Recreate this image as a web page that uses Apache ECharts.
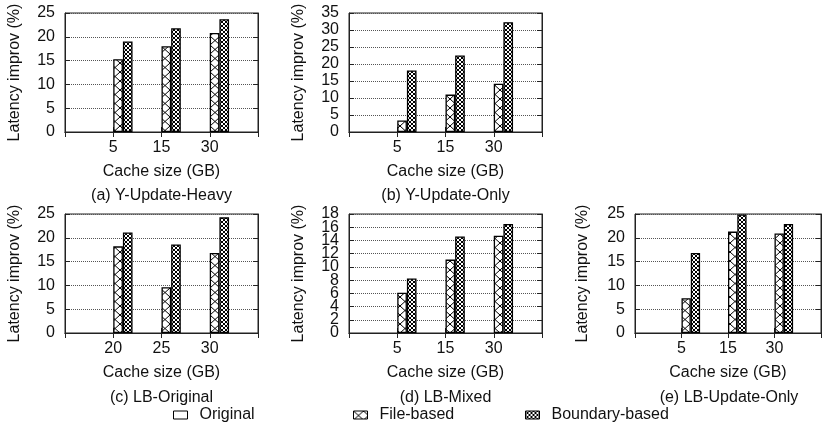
<!DOCTYPE html>
<html>
<head>
<meta charset="utf-8">
<script src="https://cdn.jsdelivr.net/npm/echarts@6/dist/echarts.min.js"></script>
<style>
  html, body { margin: 0; padding: 0; background: #fff; }
  #chart { width: 824px; height: 425px; }
</style>
</head>
<body>
<div id="chart"></div>
<script>
// ---- data ----
const panelTitles = ['(a) Y-Update-Heavy', '(b) Y-Update-Only', '(c) LB-Original', '(d) LB-Mixed', '(e) LB-Update-Only'];
const seriesNames = ['Original', 'File-based', 'Boundary-based'];

const cacheSizesA = ['5', '15', '30'];
const originalA = [0, 0, 0];
const fileBasedA = [15.3, 18.0, 20.8];
const boundaryBasedA = [19.0, 21.8, 23.7];

const cacheSizesB = ['5', '15', '30'];
const originalB = [0, 0, 0];
const fileBasedB = [3.4, 11.0, 14.2];
const boundaryBasedB = [18.1, 22.5, 32.3];

const cacheSizesC = ['20', '25', '30'];
const originalC = [0, 0, 0];
const fileBasedC = [18.2, 9.6, 16.8];
const boundaryBasedC = [21.1, 18.6, 24.3];

const cacheSizesD = ['5', '15', '30'];
const originalD = [0, 0, 0];
const fileBasedD = [6.1, 11.1, 14.7];
const boundaryBasedD = [8.25, 14.6, 16.5];

const cacheSizesE = ['5', '15', '30'];
const originalE = [0, 0, 0];
const fileBasedE = [7.3, 21.3, 20.9];
const boundaryBasedE = [16.8, 24.9, 22.9];

const yMaxes = [25, 35, 25, 18, 25];
const yTickSteps = [5, 5, 5, 2, 5];

const panels = [
  { cats: cacheSizesA, vals: [originalA, fileBasedA, boundaryBasedA] },
  { cats: cacheSizesB, vals: [originalB, fileBasedB, boundaryBasedB] },
  { cats: cacheSizesC, vals: [originalC, fileBasedC, boundaryBasedC] },
  { cats: cacheSizesD, vals: [originalD, fileBasedD, boundaryBasedD] },
  { cats: cacheSizesE, vals: [originalE, fileBasedE, boundaryBasedE] }
];

// ---- layout & style ----
const FONT = "'Liberation Sans', Arial, sans-serif";
const INK = '#111';
const FRAME = '#222';

const gridBoxes = [
  { left: 65,  top: 13,  width: 193, height: 119, nameGap: 42 },
  { left: 349, top: 13,  width: 193, height: 119, nameGap: 42 },
  { left: 65,  top: 214, width: 193, height: 119, nameGap: 42 },
  { left: 349, top: 214, width: 193, height: 119, nameGap: 42 },
  { left: 635, top: 214, width: 188, height: 119, nameGap: 44 }
];
const captionY = [196, 196, 398, 398, 398];

// hatch fills
function makeTile(w, h, draw) {
  const c = document.createElement('canvas');
  c.width = w; c.height = h;
  const ctx = c.getContext('2d');
  ctx.fillStyle = '#fff';
  ctx.fillRect(0, 0, w, h);
  ctx.strokeStyle = '#000';
  ctx.lineWidth = 1;
  draw(ctx, w, h);
  return c;
}
function crossLines(ctx, w, h) {
  ctx.beginPath();
  ctx.moveTo(-w, -h); ctx.lineTo(2 * w, 2 * h);
  ctx.moveTo(2 * w, -h); ctx.lineTo(-w, 2 * h);
  ctx.stroke();
}
const sparseCross = makeTile(10, 9, crossLines);
const denseCross = makeTile(4, 4, crossLines);

const fills = [
  '#fff',
  { image: sparseCross, repeat: 'repeat' },
  { image: denseCross, repeat: 'repeat' }
];
const barWidths = ['40%', '20%', '20%'];
const barBorders = [0, 1.3, 1.3];

const textBase = { fontFamily: FONT, fontSize: 16, color: INK };

const grid = [], xAxis = [], yAxis = [], series = [], graphic = [];

// y tick labels are split over two overlaid left axes (alternate ticks each),
// so tightly packed labels are all kept
function alternateLabels(step, parity) {
  return v => (Math.round(v / step) % 2 === parity ? String(v) : '');
}

panels.forEach((p, i) => {
  const g = gridBoxes[i];
  grid.push({
    left: g.left, top: g.top, width: g.width, height: g.height,
    show: true, borderColor: FRAME, borderWidth: 1, backgroundColor: 'transparent'
  });
  const cats = [''].concat(p.cats, ['']);
  xAxis.push({
    type: 'category', gridIndex: i, data: cats, boundaryGap: false, position: 'bottom',
    axisLine: { show: true, lineStyle: { color: FRAME, width: 1 } },
    axisTick: { show: true, inside: true, length: 5, lineStyle: { color: FRAME } },
    axisLabel: Object.assign({ margin: 8, interval: 0 }, textBase),
    splitLine: { show: false },
    name: 'Cache size (GB)', nameLocation: 'middle', nameGap: 32,
    nameTextStyle: textBase
  });
  xAxis.push({
    type: 'category', gridIndex: i, data: cats, boundaryGap: false, position: 'top',
    axisLine: { show: true, lineStyle: { color: FRAME, width: 1 } },
    axisTick: { show: true, inside: true, length: 5, interval: 0, lineStyle: { color: FRAME } },
    axisLabel: { show: false },
    splitLine: { show: false }
  });
  const step = yTickSteps[i];
  yAxis.push({
    type: 'value', gridIndex: i, min: 0, max: yMaxes[i], interval: step, position: 'left',
    axisLine: { show: true, lineStyle: { color: FRAME, width: 1 } },
    axisTick: { show: true, inside: true, length: 5, lineStyle: { color: FRAME } },
    axisLabel: Object.assign({ margin: 10, showMinLabel: true, showMaxLabel: true, formatter: alternateLabels(step, 0) }, textBase),
    splitLine: { show: true, lineStyle: { color: '#555', type: 'dotted', width: 1 } },
    name: 'Latency improv (%)', nameLocation: 'middle', nameGap: g.nameGap,
    nameTextStyle: textBase
  });
  yAxis.push({
    type: 'value', gridIndex: i, min: 0, max: yMaxes[i], interval: step, position: 'left', offset: 0,
    axisLine: { show: false },
    axisTick: { show: false },
    axisLabel: Object.assign({ margin: 10, showMinLabel: true, showMaxLabel: true, formatter: alternateLabels(step, 1) }, textBase),
    splitLine: { show: false }
  });
  yAxis.push({
    type: 'value', gridIndex: i, min: 0, max: yMaxes[i], interval: step, position: 'right',
    axisLine: { show: true, lineStyle: { color: FRAME, width: 1 } },
    axisTick: { show: true, inside: true, length: 5, lineStyle: { color: FRAME } },
    axisLabel: { show: false },
    splitLine: { show: false }
  });
  p.vals.forEach((vals, s) => {
    series.push({
      name: seriesNames[s], type: 'bar',
      xAxisIndex: 2 * i, yAxisIndex: 3 * i,
      data: [null].concat(vals, [null]),
      barWidth: barWidths[s], barGap: '0%',
      itemStyle: { color: fills[s], borderColor: '#000', borderWidth: barBorders[s] },
      emphasis: { disabled: true },
      silent: true, animation: false
    });
  });
  graphic.push({
    type: 'text', x: g.left + g.width / 2, y: captionY[i], silent: true,
    style: { text: panelTitles[i], font: '16px ' + FONT, fill: INK, textAlign: 'center', textVerticalAlign: 'middle' }
  });
});

const legendLefts = [173, 353, 525];
const legend = seriesNames.map((n, k) => ({
  data: [n], left: legendLefts[k], top: 407, padding: 0,
  icon: 'rect', itemWidth: 14, itemHeight: 8, selectedMode: false,
  itemStyle: { borderColor: '#000', borderWidth: 1 },
  textStyle: { fontFamily: FONT, fontSize: 16, color: INK, padding: [0, 0, 0, 7] }
}));

const chart = echarts.init(document.getElementById('chart'), null, { renderer: 'canvas' });
chart.setOption({
  animation: false,
  backgroundColor: '#fff',
  textStyle: { fontFamily: FONT },
  grid, xAxis, yAxis, series, legend, graphic
});
</script>
</body>
</html>
